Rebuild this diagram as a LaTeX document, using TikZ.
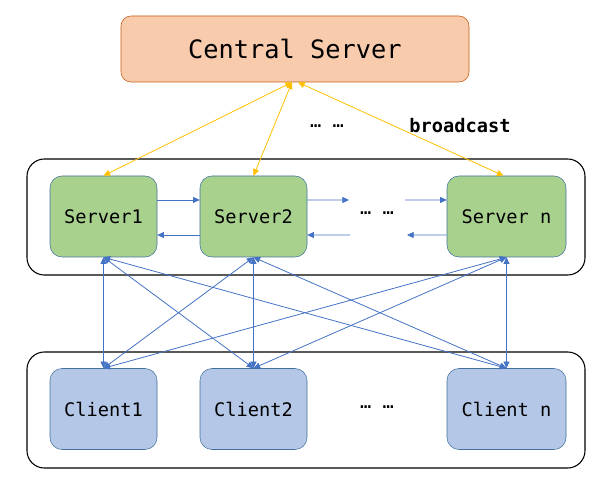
\documentclass[tikz,border=0pt]{standalone}
\usepackage{fontspec}
\setmonofont{DejaVu Sans Mono}
\usetikzlibrary{arrows.meta}
\definecolor{cfill}{HTML}{F8CBAD}
\definecolor{cdraw}{HTML}{C55A11}
\definecolor{sfill}{HTML}{A9D18E}
\definecolor{kfill}{HTML}{B4C7E7}
\definecolor{bdraw}{HTML}{41719C}
\definecolor{orangel}{HTML}{FFC000}
\definecolor{bluel}{HTML}{4472C4}
\tikzset{
  central/.style={draw=cdraw, fill=cfill, rounded corners=7.5pt, minimum width=261pt, minimum height=49.5pt, font=\ttfamily\fontsize{19}{22}\selectfont, inner sep=0pt},
  srv/.style={draw=bdraw, fill=sfill, rounded corners=9pt, minimum height=60.75pt, font=\ttfamily\fontsize{14}{16}\selectfont, inner sep=0pt},
  cli/.style={srv, fill=kfill},
  container/.style={draw=black, rounded corners=13pt, line width=0.8pt},
  oarr/.style={draw=orangel, line width=0.6pt, {Triangle[length=5pt,width=4.5pt]}-{Triangle[length=5pt,width=4.5pt]}},
  barr/.style={draw=bluel, line width=0.6pt, {Triangle[length=5pt,width=4.5pt]}-{Triangle[length=5pt,width=4.5pt]}},
  harr/.style={draw=bluel, line width=0.6pt, -{Triangle[length=5pt,width=4.5pt]}},
  hline/.style={draw=bluel, line width=0.6pt},
  lbl/.style={font=\ttfamily\fontsize{14}{16}\selectfont, inner sep=0pt}
}
\begin{document}
\begin{tikzpicture}[x=0.75pt,y=-0.75pt]
\useasboundingbox (0,0) rectangle (597,481);
% containers
\draw[container] (27,159) rectangle (585,275);
\draw[container] (27,352) rectangle (585,468);
% nodes
\node[central] (c) at (295,49) {Central Server};
\node[srv, minimum width=80.25pt] (s1) at (103.5,216.5) {Server1};
\node[srv, minimum width=80.25pt] (s2) at (253.5,216.5) {Server2};
\node[srv, minimum width=89.25pt] (sn) at (506.5,216.5) {Server n};
\node[cli, minimum width=80.25pt] (k1) at (103.5,409) {Client1};
\node[cli, minimum width=80.25pt] (k2) at (253.5,409) {Client2};
\node[cli, minimum width=89.25pt] (kn) at (506.5,409) {Client n};
% labels
\node[lbl] (dtop) at (327,126) {… …};
\node[lbl, font=\ttfamily\bfseries\fontsize{14}{16}\selectfont] (bc) at (460,126) {broadcast};
\node[lbl] (dmid) at (377,213) {… …};
\node[lbl] (dbot) at (377,407) {… …};
% central arrows
\draw[oarr] ([xshift=-2.25pt]c.south) -- (s1.north);
\draw[oarr] ([xshift=-2.25pt]c.south) -- (s2.north);
\draw[oarr] ([xshift=2.25pt]c.south) -- ([xshift=-2.25pt]sn.north);
% server ring arrows
\coordinate (d1) at (349,200);
\coordinate (d2) at (405,200);
\coordinate (d3) at (350,235);
\coordinate (d4) at (407,235);
\draw[harr] ([yshift=12.4pt]s1.east) -- ([yshift=12.4pt]s2.west);
\draw[harr] ([yshift=-13.9pt]s2.west) -- ([yshift=-13.9pt]s1.east);
\draw[harr] ([yshift=12.4pt]s2.east) -- (d1);
\draw[harr] (d2) -- ([yshift=12.4pt]sn.west);
\draw[harr] (d3) -- ([yshift=-13.9pt]s2.east);
\draw[harr] ([yshift=-13.9pt]sn.west) -- (d4);
% server-client arrows
\foreach \s in {s1,s2,sn}{
  \foreach \k in {k1,k2,kn}{
    \draw[barr] (\s.south) -- (\k.north);
  }
}
\end{tikzpicture}
\end{document}
